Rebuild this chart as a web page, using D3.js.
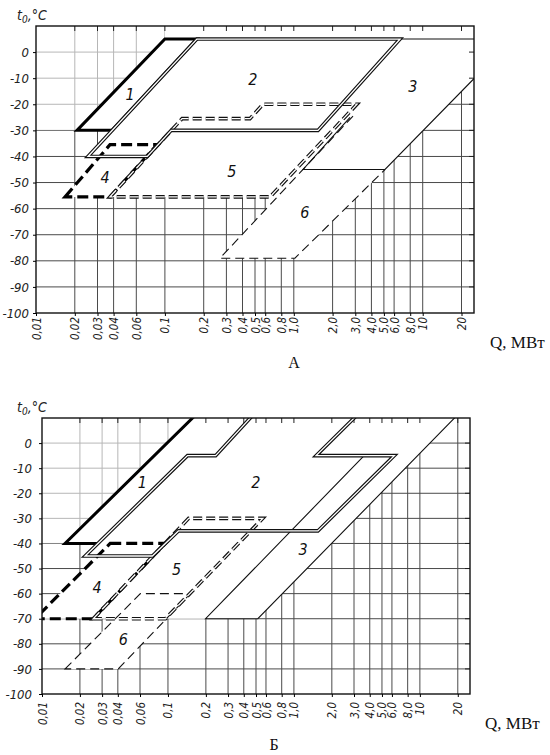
<!DOCTYPE html>
<html>
<head>
<meta charset="utf-8">
<script src="https://cdn.jsdelivr.net/npm/d3@7"></script>
<style>
  body { margin: 0; background: #fff; }
  svg { display: block; }
</style>
</head>
<body>
<svg id="chart" width="550" height="755"></svg>
<script>
'use strict';

// Axis ticks (shared by both panels)
const xTicks = [0.01, 0.02, 0.03, 0.04, 0.06, 0.1, 0.2, 0.3, 0.4, 0.5, 0.6, 0.8, 1, 2, 3, 4, 5, 6, 8, 10, 20];
const xTickLabels = ['0,01', '0,02', '0,03', '0,04', '0,06', '0,1', '0,2', '0,3', '0,4', '0,5', '0,6', '0,8',
                     '1,0', '2,0', '3,0', '4,0', '5,0', '6,0', '8,0', '10', '20'];
const yTicks = [0, -10, -20, -30, -40, -50, -60, -70, -80, -90, -100];
const yTickLabels = ['0', '-10', '-20', '-30', '-40', '-50', '-60', '-70', '-80', '-90', '-100'];
const qDomain = [0.01, 25];
const tDomain = [-100, 10];

// Panel A: region outlines as [Q, МВт ; t0, °C]
const a1 = [[0.0208, -30], [0.1, 5], [0.177, 5], [0.0389, -30]];
const a2 = [[0.0253, -40], [0.177, 5], [6.67, 5], [1.54, -30], [0.112, -30], [0.073, -40]];
const a3 = [[2.73, -25], [1.18, -45], [5.1, -45], [50, 5], [6.67, 5]];
const a4 = [[0.0168, -55.5], [0.0375, -35.5], [0.087, -35.5], [0.0375, -55.5]];
const a5 = [[0.0375, -55.5], [0.136, -25.5], [0.457, -25.5], [0.577, -20], [3.09, -20], [0.654, -55.5]];
const a6 = [[2.88, -24.5], [0.2675, -79], [1.02, -79], [5.1, -45]];
// outer border of all regions (hides the grid inside them)
const coverA = [[0.0168, -55.5], [0.0313, -40], [0.0253, -40], [0.039, -30], [0.0208, -30], [0.1, 5], [0.1, 12],
                [60, 12], [50, 5], [5.1, -45], [1.02, -79], [0.2675, -79], [0.74, -55.5]];
// faded grid in the upper left corner of the scan
const fadeA = [[0.009, 12], [0.1, 12], [0.1, 5], [0.0208, -30], [0.009, -30]];
const labelsA = [['1', 0.0536, -16.3], ['2', 0.482, -10.5], ['3', 8.4, -13.2],
                 ['4', 0.0343, -48], ['5', 0.331, -45.8], ['6', 1.22, -61.5]];

// Panel Б
const b1 = [[0.0279, -40], [0.01524, -40], [0.172, 12]];
const b2 = [[0.022, -45], [0.143, -5], [0.239, -5], [0.49, 12], [3.3, 12], [1.5, -5], [6.27, -5],
            [1.55, -35], [0.121, -35], [0.0752, -45]];
const b3 = [[3.61, -5], [0.199, -70], [0.517, -70], [20.6, 12]];
const b4 = [[0.0348, -40], [0.0955, -40], [0.0255, -70], [0.0088, -70]];
const b5 = [[0.0255, -70], [0.146, -30], [0.566, -30], [0.0955, -70]];
const b6 = [[0.01524, -90], [0.0604, -60], [0.151, -60], [0.0403, -90]];
const coverB = [[0.0088, -70], [0.0277, -45], [0.022, -45], [0.0279, -40], [0.01524, -40], [0.172, 12],
                [20.6, 12], [0.517, -70], [0.199, -70], [0.097, -70], [0.0403, -90], [0.01524, -90], [0.0381, -70]];
const fadeB = [[0.009, 12], [0.172, 12], [0.01524, -40], [0.009, -40]];
const labelsB = [['1', 0.0627, -15.6], ['2', 0.498, -15.6], ['3', 1.18, -42.4],
                 ['4', 0.0274, -57.6], ['5', 0.117, -50.4], ['6', 0.0442, -78.4]];

const drawFont = "'DejaVu Sans Condensed', 'DejaVu Sans', sans-serif";
const serifFont = "'Liberation Serif', 'DejaVu Serif', serif";

// line looks, as in the drawing
const styles = {
    thin:       [{w: 1.1, c: '#111'}],
    thinDash:   [{w: 1.1, c: '#111', dash: '9,5'}],
    thick:      [{w: 3.0, c: '#000'}],
    thickDash:  [{w: 3.2, c: '#000', dash: '11,5'}],
    double:     [{w: 3.6, c: '#111'}, {w: 1.3, c: '#fff'}],
    doubleDash: [{w: 3.6, c: '#111', dash: '9,4'}, {w: 1.3, c: '#fff', dash: '9,4'}]
};

const panels = [
    {
        id: 'A', letter: 'А', xRange: [36, 474], yRange: [313, 26],
        yPad: 4, xPad: 4, tLabelY: 20, qLabel: [490, 348], letterPos: [294, 368],
        cover: coverA, fade: fadeA, labels: labelsA,
        regions: [
            {pts: a6, style: 'thinDash', closed: false},
            {pts: a3, style: 'thin', closed: false},
            {pts: a4, style: 'thickDash', closed: true},
            {pts: a5, style: 'doubleDash', closed: true},
            {pts: a1, style: 'thick', closed: true},
            {pts: a2, style: 'double', closed: true}
        ]
    },
    {
        id: 'B', letter: 'Б', xRange: [42, 470], yRange: [694, 418],
        yPad: 7, xPad: 8, tLabelY: 412, qLabel: [485, 729], letterPos: [274, 750],
        cover: coverB, fade: fadeB, labels: labelsB,
        regions: [
            {pts: b6, style: 'thinDash', closed: true},
            {pts: b3, style: 'thin', closed: false},
            {pts: b4, style: 'thickDash', closed: true},
            {pts: b5, style: 'doubleDash', closed: true},
            {pts: b1, style: 'thick', closed: false},
            {pts: b2, style: 'double', closed: true}
        ]
    }
];

const svg = d3.select('#chart');

function drawPanel(p) {
    const x = d3.scaleLog().domain(qDomain).range(p.xRange);
    const y = d3.scaleLinear().domain(tDomain).range(p.yRange);
    const [left, right] = p.xRange;
    const [bottom, top] = p.yRange;
    const clipId = 'clip' + p.id;

    svg.append('clipPath').attr('id', clipId)
        .append('rect')
        .attr('x', left).attr('y', top)
        .attr('width', right - left).attr('height', bottom - top);

    const g = svg.append('g');

    // grid
    const grid = g.append('g').attr('stroke', '#4a4a4a').attr('stroke-width', 1);
    grid.selectAll('line.vg')
        .data(xTicks.filter(d => d > qDomain[0]))
        .join('line').attr('class', 'vg')
        .attr('x1', d => x(d)).attr('x2', d => x(d))
        .attr('y1', top).attr('y2', bottom);
    grid.selectAll('line.hg')
        .data(yTicks.filter(d => d > tDomain[0]))
        .join('line').attr('class', 'hg')
        .attr('x1', left).attr('x2', right)
        .attr('y1', d => y(d)).attr('y2', d => y(d));

    const line = d3.line().x(d => x(d[0])).y(d => y(d[1]));
    const closedLine = d3.line().x(d => x(d[0])).y(d => y(d[1])).curve(d3.curveLinearClosed);

    // faded corner, then white inside the regions
    g.append('path')
        .datum(p.fade)
        .attr('d', closedLine)
        .attr('fill', '#fff').attr('fill-opacity', 0.6)
        .attr('clip-path', `url(#${clipId})`);
    g.append('path')
        .datum(p.cover)
        .attr('d', closedLine)
        .attr('fill', '#fff')
        .attr('clip-path', `url(#${clipId})`);

    // short ticks along top and right edges
    g.append('g').attr('stroke', '#222').attr('stroke-width', 1)
        .selectAll('line')
        .data(xTicks.filter(d => d > qDomain[0]))
        .join('line')
        .attr('x1', d => x(d)).attr('x2', d => x(d))
        .attr('y1', top).attr('y2', top + 5);
    g.append('g').attr('stroke', '#222').attr('stroke-width', 1)
        .selectAll('line')
        .data(yTicks.filter(d => d > tDomain[0]))
        .join('line')
        .attr('x1', right - 5).attr('x2', right)
        .attr('y1', d => y(d)).attr('y2', d => y(d));

    // region outlines
    const regionsG = g.append('g')
        .attr('clip-path', `url(#${clipId})`)
        .attr('fill', 'none')
        .attr('stroke-linejoin', 'miter')
        .attr('stroke-linecap', 'butt');
    p.regions.forEach(r => {
        styles[r.style].forEach(s => {
            regionsG.append('path')
                .datum(r.pts)
                .attr('d', r.closed ? closedLine : line)
                .attr('stroke', s.c)
                .attr('stroke-width', s.w)
                .attr('stroke-dasharray', s.dash || null);
        });
    });

    // region numbers
    g.append('g')
        .attr('font-family', drawFont).attr('font-style', 'italic').attr('font-size', 16)
        .attr('text-anchor', 'middle').attr('fill', '#111')
        .selectAll('text')
        .data(p.labels)
        .join('text')
        .attr('x', d => x(d[1])).attr('y', d => y(d[2]))
        .attr('dy', '0.35em')
        .text(d => d[0]);

    // frame
    g.append('rect')
        .attr('x', left).attr('y', top)
        .attr('width', right - left).attr('height', bottom - top)
        .attr('fill', 'none').attr('stroke', '#111').attr('stroke-width', 1.4);

    // axes
    const yAxis = g.append('g')
        .attr('transform', `translate(${left},0)`)
        .call(d3.axisLeft(y).tickValues(yTicks).tickFormat((d, i) => yTickLabels[i]).tickSize(3).tickPadding(p.yPad))
        .call(a => a.select('.domain').remove());
    yAxis.attr('font-family', drawFont).attr('font-style', 'italic').attr('font-size', 13);
    yAxis.selectAll('text').attr('fill', '#222');

    const xAxis = g.append('g')
        .attr('transform', `translate(0,${bottom})`)
        .call(d3.axisBottom(x).tickValues(xTicks).tickFormat((d, i) => xTickLabels[i]).tickSize(3))
        .call(a => a.select('.domain').remove());
    xAxis.attr('font-family', drawFont).attr('font-style', 'italic').attr('font-size', 11.5);
    xAxis.selectAll('text')
        .attr('fill', '#222')
        .attr('transform', 'rotate(-90)')
        .attr('text-anchor', 'end')
        .attr('x', -p.xPad).attr('y', 0)
        .attr('dy', '0.35em');

    // axis titles
    const tl = svg.append('text')
        .attr('x', 17).attr('y', p.tLabelY)
        .attr('font-family', drawFont).attr('font-style', 'italic').attr('font-size', 14)
        .attr('fill', '#222');
    tl.append('tspan').text('t');
    tl.append('tspan').attr('font-size', 10).attr('dy', 3).text('0');
    tl.append('tspan').attr('dy', -3).text(',°C');

    svg.append('text')
        .attr('x', p.qLabel[0]).attr('y', p.qLabel[1])
        .attr('font-family', serifFont).attr('font-size', 17)
        .attr('fill', '#111')
        .text('Q, МВт');

    svg.append('text')
        .attr('x', p.letterPos[0]).attr('y', p.letterPos[1])
        .attr('font-family', serifFont).attr('font-size', 16)
        .attr('text-anchor', 'middle')
        .attr('fill', '#111')
        .text(p.letter);
}

panels.forEach(drawPanel);
</script>
</body>
</html>
